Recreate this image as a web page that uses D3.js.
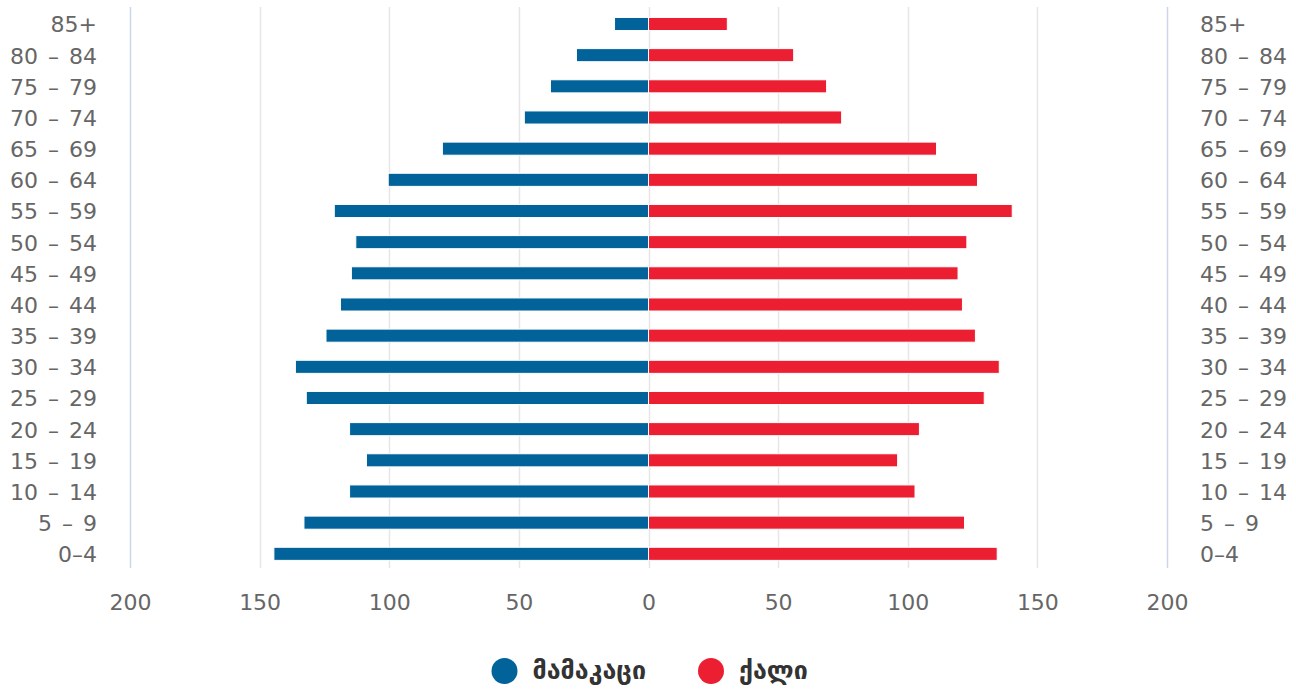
<!DOCTYPE html>
<html>
<head>
<meta charset="utf-8">
<script src="https://cdn.jsdelivr.net/npm/d3@7"></script>
<style>
  body { margin: 0; background: #fff; }
  svg { display: block; font-family: "DejaVu Sans", sans-serif; }
</style>
</head>
<body>
<div id="chart"></div>
<script>
// age groups, bottom to top
var ageGroups = ["0–4", "5 – 9", "10 – 14", "15 – 19", "20 – 24", "25 – 29", "30 – 34", "35 – 39",
    "40 – 44", "45 – 49", "50 – 54", "55 – 59", "60 – 64", "65 – 69", "70 – 74", "75 – 79", "80 – 84", "85+"];
var maleValues = [144.5, 132.9, 115.3, 108.8, 115.3, 132, 136.2, 124.4, 118.8, 114.6, 112.9, 121.2,
    100.4, 79.5, 47.9, 37.8, 27.8, 13.1];
var femaleValues = [134.5, 121.9, 102.8, 96.1, 104.5, 129.5, 135.3, 126.1, 121.1, 119.4, 122.8, 140.3,
    126.9, 111.1, 74.5, 68.7, 56, 30.4];
var xTicks = [-200, -150, -100, -50, 0, 50, 100, 150, 200];
var seriesNames = ["მამაკაცი", "ქალი"];
var seriesColors = ["#02639b", "#ec1e32"];

var width = 1296,
    height = 691,
    plotTop = 7,
    plotBottom = 568;

var svg = d3.select("#chart")
    .append("svg")
        .attr("width", width)
        .attr("height", height);

var rows = ageGroups.map(function(d, i) {
    return {age: d, male: maleValues[i], female: femaleValues[i]};
});

var scaleX = d3.scaleLinear()
    .domain([-200, 200])
    .range([130, 1167]);

var scaleY = d3.scaleBand()
    .domain(ageGroups.slice().reverse())
    .range([plotTop + 1.4, plotBottom + 1.4])
    .paddingInner(0.58)
    .paddingOuter(0.29);

// grid lines
svg.append("g")
    .selectAll("line")
    .data(xTicks)
    .enter()
    .append("line")
        .attr("x1", function(d) { return Math.round(scaleX(d)) + 0.5; })
        .attr("x2", function(d) { return Math.round(scaleX(d)) + 0.5; })
        .attr("y1", plotTop)
        .attr("y2", plotBottom)
        .attr("stroke", function(d) { return Math.abs(d) == 200 ? "#ccd6eb" : "#e6e6e6"; })
        .attr("stroke-width", 1.5);

// male bars
svg.append("g")
    .selectAll("rect")
    .data(rows)
    .enter()
    .append("rect")
        .attr("x", function(d) { return scaleX(-d.male); })
        .attr("y", function(d) { return scaleY(d.age); })
        .attr("width", function(d) { return scaleX(0) - scaleX(-d.male); })
        .attr("height", scaleY.bandwidth())
        .attr("fill", seriesColors[0])
        .attr("stroke", "#fff")
        .attr("stroke-width", 1);

// female bars
svg.append("g")
    .selectAll("rect")
    .data(rows)
    .enter()
    .append("rect")
        .attr("x", scaleX(0))
        .attr("y", function(d) { return scaleY(d.age); })
        .attr("width", function(d) { return scaleX(d.female) - scaleX(0); })
        .attr("height", scaleY.bandwidth())
        .attr("fill", seriesColors[1])
        .attr("stroke", "#fff")
        .attr("stroke-width", 1);

// x axis
var xAxis = svg.append("g")
    .attr("transform", "translate(0," + plotBottom + ")")
    .call(d3.axisBottom(scaleX)
        .tickValues(xTicks)
        .tickSize(0)
        .tickFormat(function(d) { return Math.abs(d); }));
xAxis.select(".domain").remove();
xAxis.selectAll("text")
    .attr("y", 42)
    .attr("dy", 0)
    .attr("fill", "#666")
    .style("font-size", "22px")
    .style("font-family", "DejaVu Sans");

// age labels, both sides
var leftAxis = svg.append("g")
    .attr("transform", "translate(130,0)")
    .call(d3.axisLeft(scaleY).tickSize(0).tickPadding(33));
var rightAxis = svg.append("g")
    .attr("transform", "translate(1167,0)")
    .call(d3.axisRight(scaleY).tickSize(0).tickPadding(33));
[leftAxis, rightAxis].forEach(function(ax) {
    ax.select(".domain").remove();
    ax.selectAll("text")
        .attr("dy", "0.38em")
        .attr("fill", "#666")
        .style("font-size", "22px")
        .style("word-spacing", "3px")
        .style("font-family", "DejaVu Sans");
});

// legend
var legendX = [504.5, 711];
var legend = svg.append("g")
    .selectAll("g")
    .data(seriesNames)
    .enter()
    .append("g")
        .attr("transform", function(d, i) { return "translate(" + legendX[i] + ",671)"; });
legend.append("circle")
    .attr("r", 13)
    .attr("fill", function(d, i) { return seriesColors[i]; });
legend.append("text")
    .attr("x", 28)
    .attr("dy", "0.32em")
    .attr("fill", "#333")
    .style("font-size", "25px")
    .style("font-weight", "bold")
    .text(function(d) { return d; });
</script>
</body>
</html>
